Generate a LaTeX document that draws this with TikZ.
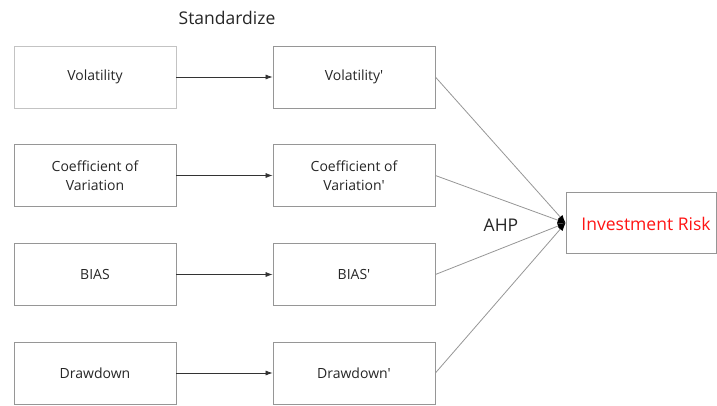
\documentclass[tikz,border=0pt]{standalone}
\usepackage{fontspec}
\setmainfont{Open Sans}
\usetikzlibrary{arrows.meta}
\definecolor{edgegray}{RGB}{150,150,150}
\definecolor{lightedge}{RGB}{195,195,195}
\definecolor{riskred}{RGB}{255,20,20}
\newcommand{\prm}{\textquotesingle}
\tikzset{
  box/.style={draw=edgegray, line width=0.8pt, minimum width=162pt, minimum height=62pt,
              inner sep=0pt, align=center, font=\fontsize{14}{19}\selectfont, text=black!85},
  stdarrow/.style={draw=black!80, line width=0.7pt, -{Latex[length=7pt,width=5pt]}},
  ahpline/.style={draw=edgegray, line width=0.8pt, -{Latex[length=8pt,width=6pt,color=black]}},
  bigtext/.style={font=\fontsize{17.5}{20}\selectfont, text=black!85, inner sep=0pt}
}
\begin{document}
\begin{tikzpicture}[x=1pt, y=-1pt]
  \useasboundingbox (0,0) rectangle (717,405);

  % raw indicators
  \node[box, draw=lightedge] (vol)  at (95,77)   {Volatility};
  \node[box] (cv)   at (95,175.5) {Coefficient of\\Variation};
  \node[box] (bias) at (95,274.5) {BIAS};
  \node[box] (dd)   at (95,373)   {Drawdown};

  % standardized indicators
  \node[box] (volp)  at (354,77)    {Volatility\prm};
  \node[box] (cvp)   at (354,175.5) {Coefficient of\\Variation\prm};
  \node[box] (biasp) at (354,274.5) {BIAS\prm};
  \node[box] (ddp)   at (354,373)   {Drawdown\prm};

  % aggregate
  \node[draw=edgegray, line width=0.8pt, minimum width=150pt, minimum height=61pt, inner sep=0pt]
    (risk) at (641,223) {};
  \node[bigtext, text=riskred] (risktext) at (646,224) {Investment Risk};

  % labels
  \node[bigtext] (std) at (227,18) {Standardize};
  \node[bigtext] (ahp) at (501,225) {AHP};

  % standardization arrows
  \draw[stdarrow] (vol.east)  -- (volp.west);
  \draw[stdarrow] (cv.east)   -- (cvp.west);
  \draw[stdarrow] (bias.east) -- (biasp.west);
  \draw[stdarrow] (dd.east)   -- (ddp.west);

  % AHP weighting
  \draw[ahpline] (volp.east)  -- (risk.west);
  \draw[ahpline] (cvp.east)   -- (risk.west);
  \draw[ahpline] (biasp.east) -- (risk.west);
  \draw[ahpline] (ddp.east)   -- (risk.west);
\end{tikzpicture}
\end{document}
